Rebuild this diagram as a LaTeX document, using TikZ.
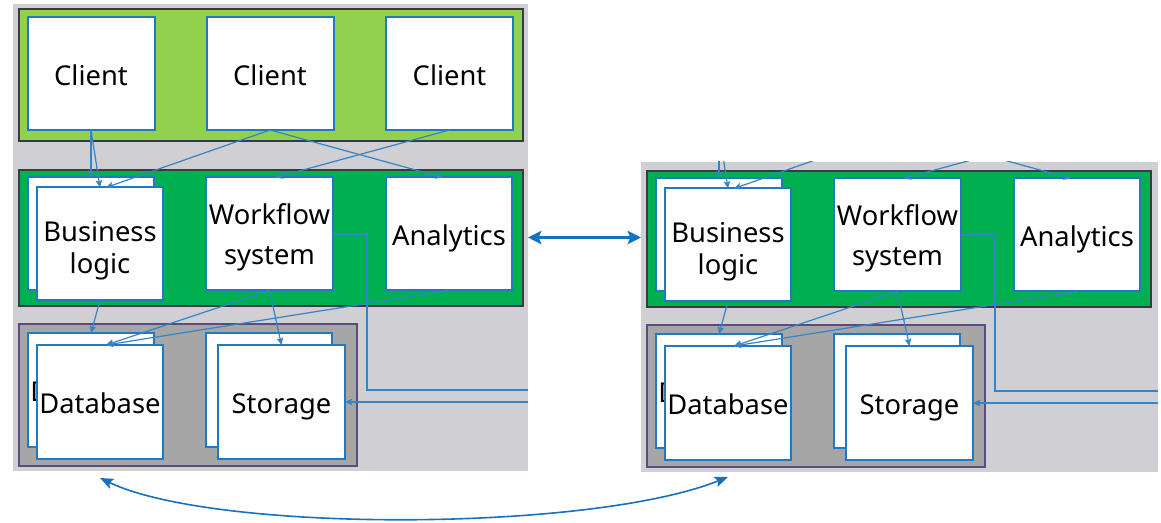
\documentclass[tikz,border=0pt]{standalone}
\usepackage{fontspec}
\setmainfont{Noto Sans}
\usetikzlibrary{arrows.meta,calc}

\definecolor{panelgray}{RGB}{208,207,212}
\definecolor{lightgreen}{RGB}{146,208,80}
\definecolor{darkgreen}{RGB}{0,176,80}
\definecolor{storegray}{RGB}{166,166,166}
\definecolor{boxblue}{RGB}{33,121,194}
\definecolor{linkblue}{RGB}{52,132,200}
\definecolor{arrowblue}{RGB}{22,114,190}
\definecolor{bandedge}{RGB}{58,58,70}
\definecolor{storeedge}{RGB}{92,74,128}

% Box label: lines of text whose last baseline sits at a fixed depth,
% #1 = height given to the label box, #2 = the lines
\newcommand\boxlabel[2]{\raisebox{0pt}[#1][0pt]{\begin{tabular}[b]{@{}c@{}}#2\end{tabular}}}
\newcommand\oneline[1]{\boxlabel{17.5pt}{#1}}
\newcommand\twolines[2]{\boxlabel{45pt}{#1\\#2}}
\newcommand\twolineswide[2]{\boxlabel{46.5pt}{#1\\[6pt]#2}}

\tikzset{
  panelbg/.style={rectangle, fill=panelgray, draw=none, inner sep=0pt, outer sep=0pt},
  band/.style={line width=0.9pt},
  tbox/.style={rectangle, draw=boxblue, line width=1.5pt, fill=white,
    inner sep=0pt, outer sep=0pt,
    minimum width={126*0.75pt}, minimum height={113*0.75pt},
    font=\fontsize{20.5}{24}\selectfont, text=black},
  link/.style={draw=linkblue, line width=0.9pt,
    -{Stealth[length=5.5pt,width=5pt,inset=1.2pt]}},
  route/.style={draw=linkblue, line width=0.9pt},
  bigarrow/.style={draw=arrowblue, line width=2.1pt,
    {Stealth[length=10pt,width=10pt,inset=2pt]}-{Stealth[length=10pt,width=10pt,inset=2pt]}},
  curvearrow/.style={draw=arrowblue, line width=1.2pt,
    {Stealth[length=10pt,width=8pt,inset=2pt]}-{Stealth[length=10pt,width=8pt,inset=2pt]}},
}

% Service tier and storage tier of one site.
% #1: name prefix, #2: x of the site's right edge
\newcommand\tierset[2]{%
  \filldraw[band, fill=darkgreen, draw=bandedge] (19,170) rectangle (523,306);
  \filldraw[band, fill=storegray, draw=storeedge] (19,324) rectangle (357,466);
  \node[tbox] (#1-bizB) at (91,234) {\twolines{Business}{logic}};
  \node[tbox] (#1-biz) at (100,244) {\twolines{Business}{logic}};
  \node[tbox, minimum width={127*0.75pt}] (#1-wf) at (269.5,234) {\twolineswide{Workflow}{system}};
  \node[tbox] (#1-anl) at (449,234) {\oneline{Analytics}};
  \node[tbox, minimum height={114*0.75pt}] (#1-dbB) at (91,390) {\oneline{Database}};
  \node[tbox, minimum height={114*0.75pt}] (#1-db) at (100,402) {\oneline{Database}};
  \node[tbox, minimum height={114*0.75pt}] (#1-stB) at (269,390) {\oneline{Storage}};
  \node[tbox, minimum width={127*0.75pt}, minimum height={114*0.75pt}] (#1-st) at (281.5,402) {\oneline{Storage}};
  \coordinate (#1-out) at (#2,390);
  \coordinate (#1-in) at (#2,402);
  % requests from the clients
  \draw[link] (#1-c1) -- (#1-bizB.north);
  \draw[link] (#1-c1) -- (#1-biz.north);
  \draw[link] (#1-c2) -- ($(#1-biz.north)+(6,0)$);
  \draw[link] (#1-c2) -- ($(#1-anl.north)+(-6,0)$);
  \draw[link] (#1-c3) -- ($(#1-wf.north)+(6,0)$);
  % service tier to storage tier
  \draw[link] (#1-biz.south) -- (#1-dbB.north);
  \draw[link] (#1-wf.south) -- ($(#1-db.north)+(6,0)$);
  \draw[link] (#1-anl.south) -- ($(#1-db.north)+(6,0)$);
  \draw[link] (#1-wf.south) -- (#1-st.north);
  % replication paths leaving and entering the site
  \draw[route] (#1-wf.east) -| ($(#1-out)+(#2*-1+367,0)$) -- (#1-out);
  \draw[link] (#1-in) -- (#1-st.east);
}

\begin{document}
\begin{tikzpicture}[x=0.75pt, y=-0.75pt]
  \useasboundingbox (0,0) rectangle (1161,523);

  % ---- first site, with its clients ----
  \node[panelbg, minimum width={515*0.75pt}, minimum height={467*0.75pt}] (L-panel) at (270.5,237.5) {};
  \filldraw[band, fill=lightgreen, draw=bandedge] (19,9) rectangle (523,141);
  \node[tbox, minimum width={127*0.75pt}] (cl1) at (91,73.5) {\oneline{Client}};
  \node[tbox, minimum width={127*0.75pt}] (cl2) at (270,73.5) {\oneline{Client}};
  \node[tbox, minimum width={127*0.75pt}] (cl3) at (449.5,73.5) {\oneline{Client}};
  \coordinate (L-c1) at (cl1.south);
  \coordinate (L-c2) at (cl2.south);
  \coordinate (L-c3) at (cl3.south);
  \tierset{L}{528}

  % ---- second site ----
  \node[panelbg, minimum width={517*0.75pt}, minimum height={310*0.75pt}] (R-panel) at (899.5,317) {};
  \begin{scope}
    \clip (R-panel.south west) rectangle (R-panel.north east);
    \begin{scope}[shift={(628,1)}]
      \coordinate (R-c1) at (91,130);
      \coordinate (R-c2) at (270,130);
      \coordinate (R-c3) at (449.5,130);
      \tierset{R}{530}
    \end{scope}
  \end{scope}

  % ---- links between the sites ----
  \draw[bigarrow] (L-panel.east) -- (L-panel.east -| R-panel.west);
  \draw[curvearrow] ($(L-db.south)+(0,19)$) .. controls +(115,55) and +(-138,55) .. ($(R-db.south)+(0,17)$);
\end{tikzpicture}
\end{document}
